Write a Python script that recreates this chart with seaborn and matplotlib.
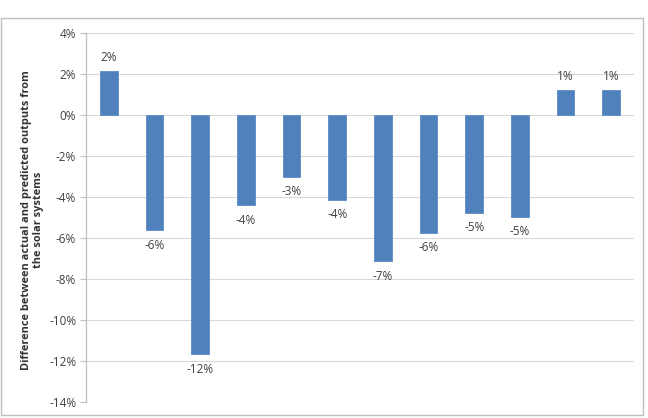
import matplotlib
matplotlib.use("Agg")
import matplotlib.pyplot as plt
import seaborn as sns
import pandas as pd
from matplotlib.patches import Rectangle

systems = [f"S{i}" for i in range(1, 13)]
diff_pct = [2.16, -5.63, -11.68, -4.4, -3.03, -4.14, -7.14, -5.74, -4.76, -4.98, 1.23, 1.23]
yticks = list(range(-14, 5, 2))
ylabel = "Difference between actual and predicted outputs from\nthe solar systems"

sns.set_theme(style="white")
plt.rcParams['font.family'] = ['Open Sans', 'DejaVu Sans']

df = pd.DataFrame({"system": systems, "diff": diff_pct})

fig = plt.figure(figsize=(6.48, 4.18), dpi=100)
ax = fig.add_axes([86/648, 1-402/418, (634-86)/648, (402-33)/418])

sns.barplot(data=df, x="system", y="diff", color="#4F81BD", width=0.39,
            saturation=1, ax=ax, edgecolor="#5B8BC6", linewidth=0.6, zorder=3)

ax.set_ylim(-14, 4)
ax.set_xlim(-0.5, 11.5)
ax.set_yticks(yticks)
ax.set_yticklabels([f"{t}%" for t in yticks], fontsize=8.5, color="#404040")
ax.set_xticks([])
ax.set_xlabel("")
ax.set_ylabel(ylabel, fontsize=7.9, fontweight="bold", color="#333333",
              linespacing=1.15)
ax.yaxis.set_label_coords(-0.077, 0.493)
ax.yaxis.grid(True, color="#D9D9D9", linewidth=0.8, zorder=0)
for s in ["top", "right", "bottom"]:
    ax.spines[s].set_visible(False)
ax.spines["left"].set_color("#BFBFBF")
ax.spines["left"].set_linewidth(0.9)
ax.tick_params(axis="y", which="major", left=True, length=4, width=0.8,
               color="#BFBFBF", pad=3)

for i, v in enumerate(diff_pct):
    lab = f"{round(v):.0f}%"
    if v >= 0:
        ax.annotate(lab, (i, v), xytext=(0, 5), textcoords="offset points",
                    ha="center", va="bottom", fontsize=8.5, color="#404040")
    else:
        ax.annotate(lab, (i, v), xytext=(0, -6), textcoords="offset points",
                    ha="center", va="top", fontsize=8.5, color="#404040")

# chart area border
fig.patches.append(Rectangle((1/648, 1-415/418), 642/648, (415-18)/418,
                             transform=fig.transFigure, fill=False,
                             edgecolor="#BFBFBF", linewidth=1.0))

fig.savefig("out.png", dpi=100, facecolor="white")
